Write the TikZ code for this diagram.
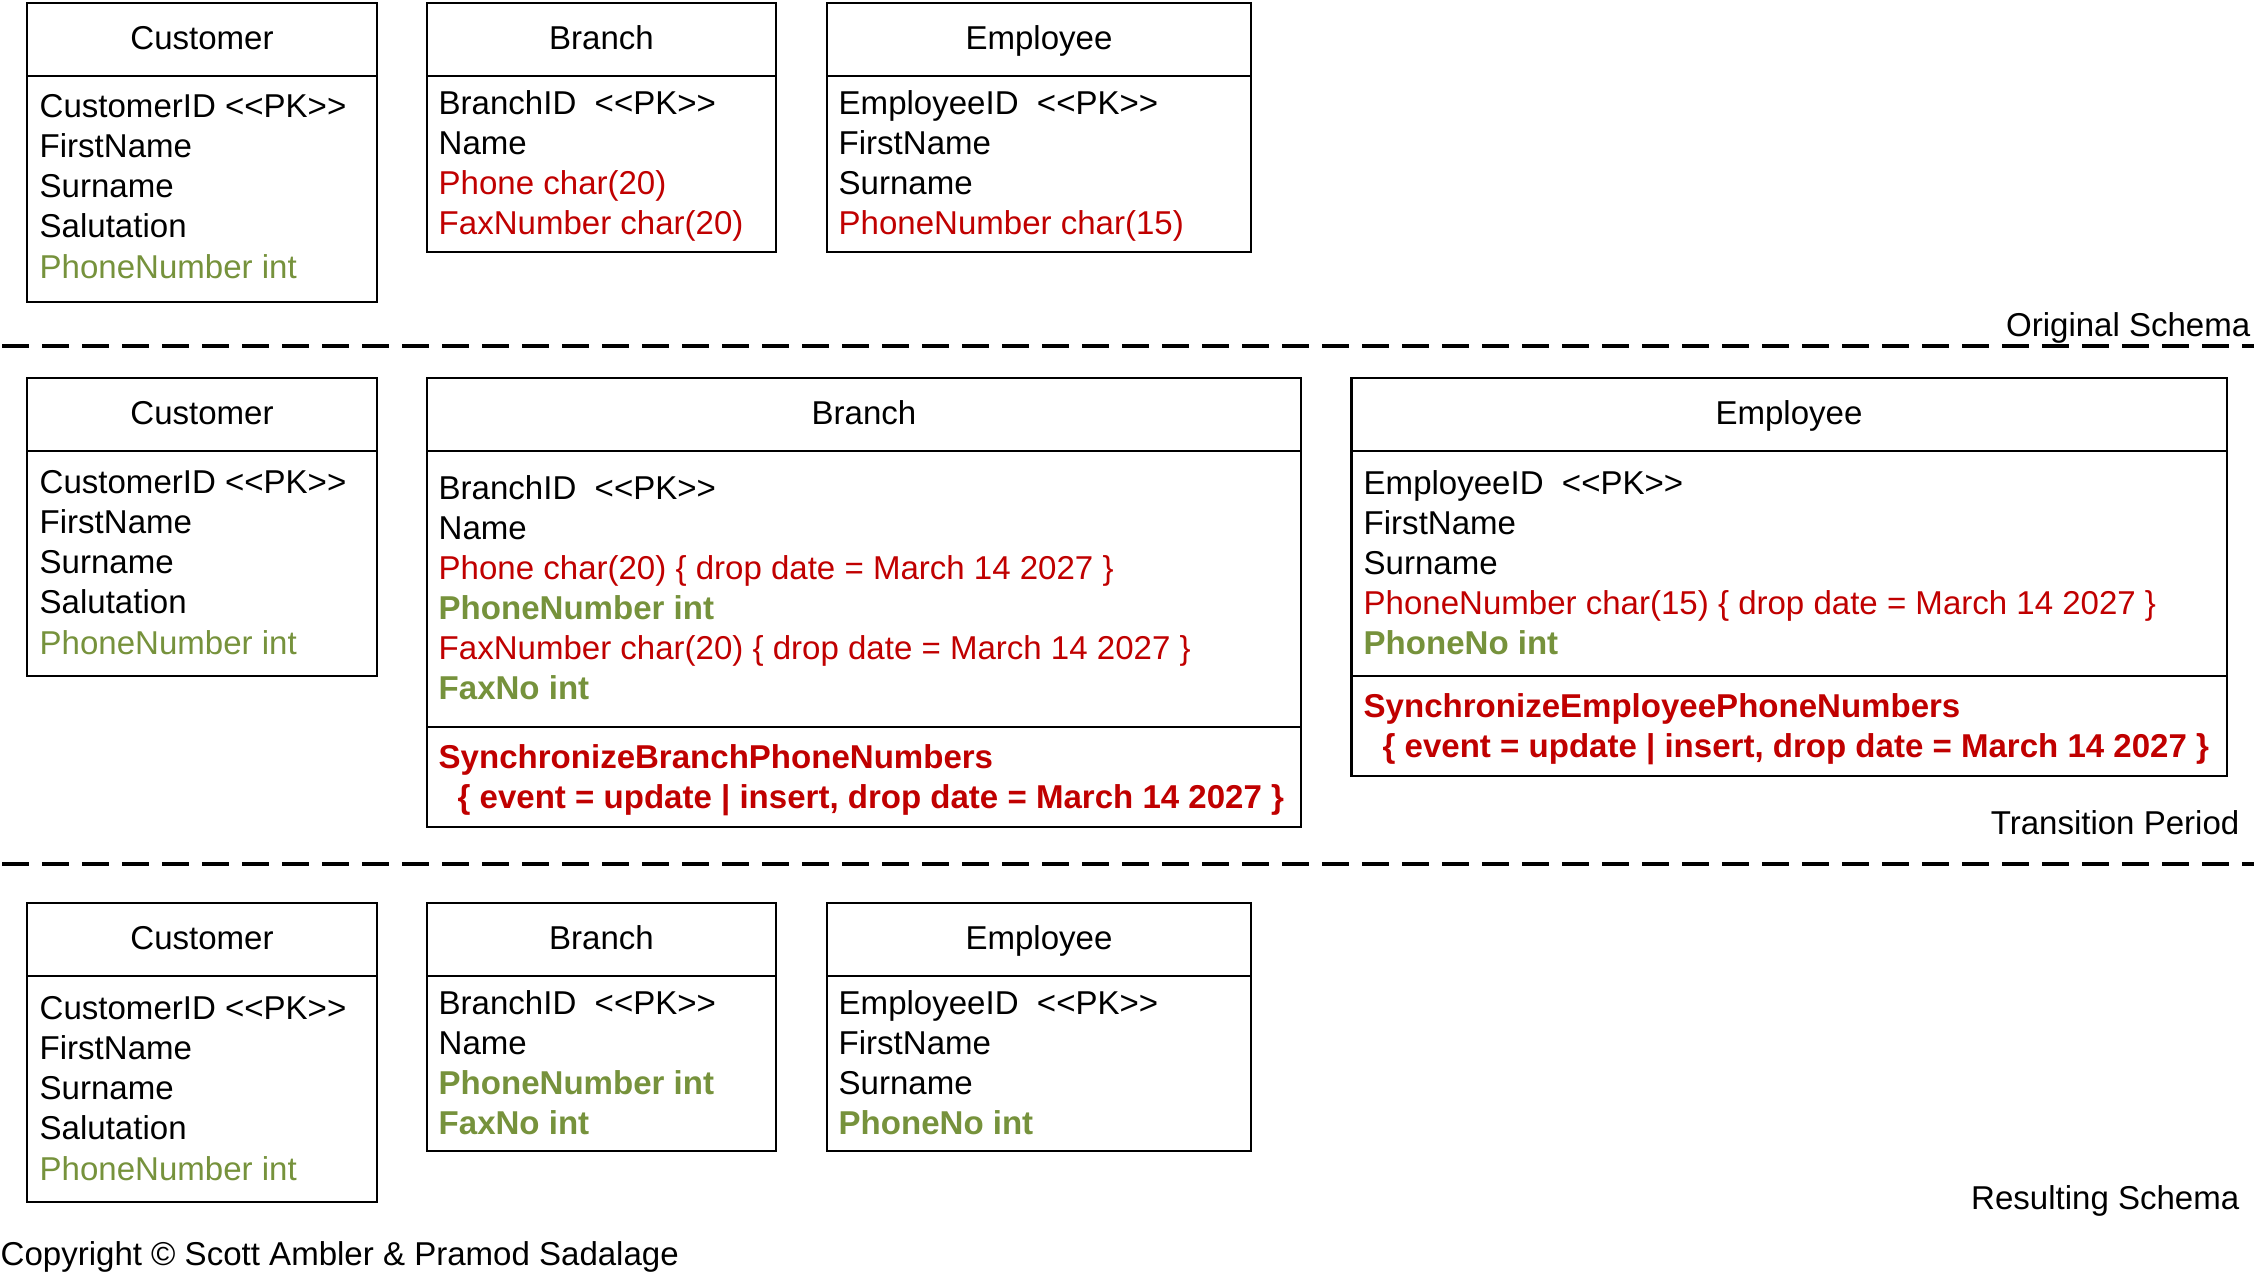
\documentclass[tikz,border=0pt]{standalone}
\usepackage{fontspec}
\setmainfont{Liberation Sans}[Ligatures=TeXOff]
\usetikzlibrary{positioning}
\definecolor{dropred}{RGB}{192,0,0}
\definecolor{newgreen}{RGB}{118,146,60}
\newcommand{\boxfont}{\fontsize{9.4}{11.4}\selectfont}
\newcommand{\dropped}[1]{\textcolor{dropred}{#1}}
\newcommand{\added}[1]{\textcolor{newgreen}{\bfseries #1}}
\newcommand{\kept}[1]{\textcolor{newgreen}{#1}}
\tikzset{
  hdr/.style={draw,line width=0.85pt,anchor=north west,inner sep=0pt,outer sep=0pt,
    minimum width=#1,minimum height=7.3mm,text height=7.8pt,text depth=2pt,font=\boxfont},
  hdr/.default=35mm,
  cmp/.style={draw,line width=0.85pt,anchor=north west,inner sep=0pt,outer sep=0pt,minimum width=#1},
  cmp/.default=35mm,
  rows/.style={inner sep=0pt,align=left,font=\boxfont,execute at begin node=\strut},
  stage/.style={font=\boxfont,inner sep=0pt},
  divider/.style={line width=1.1pt,dash pattern=on 2.7mm off 1.3mm},
}

\begin{document}
\begin{tikzpicture}[x=0.1mm,y=-0.1mm]
  \useasboundingbox (0,0) rectangle (2254,1275);

  % original schema
  \node[hdr] (custA) at (27,3) {Customer};
  \node[cmp,minimum height=22.6mm] (custAbody) at (custA.south west) {};
  \node[rows,below right=1.8mm and 1.2mm of custAbody.north west] (custAtxt)
    {CustomerID <<PK>>\\FirstName\\Surname\\Salutation\\\kept{PhoneNumber int}};
  \node[hdr=34.9mm] (branA) at (427,3) {Branch};
  \node[cmp=34.9mm,minimum height=17.6mm] (branAbody) at (branA.south west) {};
  \node[rows,below right=1.4mm and 1.1mm of branAbody.north west] (branAtxt)
    {BranchID\ \ <<PK>>\\Name\\\dropped{Phone char(20)}\\\dropped{FaxNumber char(20)}};
  \node[hdr=42.4mm] (empA) at (827,3) {Employee};
  \node[cmp=42.4mm,minimum height=17.6mm] (empAbody) at (empA.south west) {};
  \node[rows,below right=1.4mm and 1.1mm of empAbody.north west] (empAtxt)
    {EmployeeID\ \ <<PK>>\\FirstName\\Surname\\\dropped{PhoneNumber char(15)}};
  \node[stage,anchor=base east] (origlbl) at (2251,337) {Original Schema};
  \draw[divider] (2,346) -- (2254,346);

  % transition period
  \node[hdr] (custB) at (27,378) {Customer};
  \node[cmp,minimum height=22.5mm] (custBbody) at (custB.south west) {};
  \node[rows,below right=1.9mm and 1.2mm of custBbody.north west] (custBtxt)
    {CustomerID <<PK>>\\FirstName\\Surname\\Salutation\\\kept{PhoneNumber int}};
  \node[hdr=87.4mm] (branB) at (427,378) {Branch};
  \node[cmp=87.4mm,minimum height=27.6mm] (branBbody) at (branB.south west) {};
  \node[rows,below right=2.4mm and 1.1mm of branBbody.north west] (branBtxt)
    {BranchID\ \ <<PK>>\\Name\\
     \dropped{Phone char(20) \{ drop date = March 14 2027 \}}\\
     \added{PhoneNumber int}\\
     \dropped{FaxNumber char(20) \{ drop date = March 14 2027 \}}\\
     \added{FaxNo int}};
  \node[cmp=87.4mm,minimum height=10mm] (branBops) at (branBbody.south west) {};
  \node[rows,below right=1.7mm and 1.1mm of branBops.north west] (branBtrig)
    {\dropped{\bfseries SynchronizeBranchPhoneNumbers}\\
     \hspace*{5.4pt}\dropped{\bfseries \{ event = update | insert, drop date = March 14 2027 \}}};
  \node[hdr=87.6mm] (empB) at (1351,378) {Employee};
  \node[cmp=87.6mm,minimum height=22.5mm] (empBbody) at (empB.south west) {};
  \node[rows,below right=1.9mm and 1.2mm of empBbody.north west] (empBtxt)
    {EmployeeID\ \ <<PK>>\\FirstName\\Surname\\
     \dropped{PhoneNumber char(15) \{ drop date = March 14 2027 \}}\\
     \added{PhoneNo int}};
  \node[cmp=87.6mm,minimum height=10mm] (empBops) at (empBbody.south west) {};
  \node[rows,below right=1.7mm and 1.2mm of empBops.north west] (empBtrig)
    {\dropped{\bfseries SynchronizeEmployeePhoneNumbers}\\
     \hspace*{5.4pt}\dropped{\bfseries \{ event = update | insert, drop date = March 14 2027 \}}};
  \node[stage,anchor=base east] (translbl) at (2240,834) {Transition Period};
  \draw[divider] (2,864) -- (2254,864);

  % resulting schema
  \node[hdr] (custC) at (27,903) {Customer};
  \node[cmp,minimum height=22.6mm] (custCbody) at (custC.south west) {};
  \node[rows,below right=2mm and 1.2mm of custCbody.north west] (custCtxt)
    {CustomerID <<PK>>\\FirstName\\Surname\\Salutation\\\kept{PhoneNumber int}};
  \node[hdr=34.9mm] (branC) at (427,903) {Branch};
  \node[cmp=34.9mm,minimum height=17.5mm] (branCbody) at (branC.south west) {};
  \node[rows,below right=1.4mm and 1.1mm of branCbody.north west] (branCtxt)
    {BranchID\ \ <<PK>>\\Name\\\added{PhoneNumber int}\\\added{FaxNo int}};
  \node[hdr=42.4mm] (empC) at (827,903) {Employee};
  \node[cmp=42.4mm,minimum height=17.5mm] (empCbody) at (empC.south west) {};
  \node[rows,below right=1.4mm and 1.1mm of empCbody.north west] (empCtxt)
    {EmployeeID\ \ <<PK>>\\FirstName\\Surname\\\added{PhoneNo int}};
  \node[stage,anchor=base east] (resultlbl) at (2240,1209) {Resulting Schema};

  \node[stage,anchor=base west] (copyright) at (0,1265) {Copyright © Scott Ambler \& Pramod Sadalage};
\end{tikzpicture}
\end{document}
